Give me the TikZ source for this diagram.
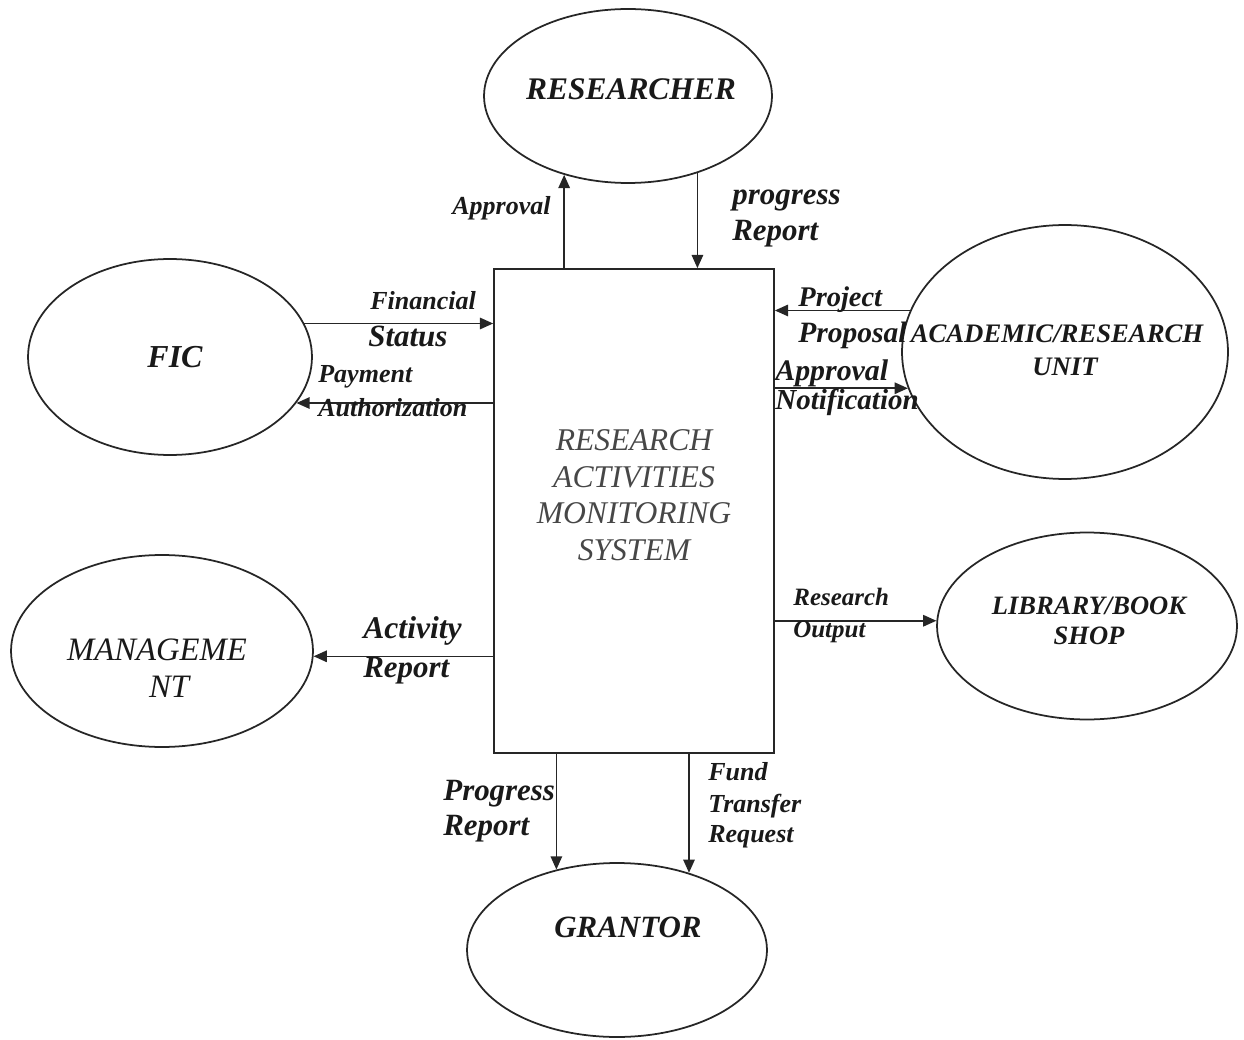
\documentclass[tikz,border=0pt]{standalone}
\usepackage{fontspec}
\setmainfont{Liberation Serif}
\usetikzlibrary{shapes.geometric,arrows.meta}

\newcommand\setfs[1]{\fontsize{#1}{#1}\selectfont}

\tikzset{
  ent/.style={draw=black!85, line width=1pt, ellipse, inner sep=0pt},
  proc/.style={draw=black!85, line width=1pt, rectangle, inner sep=0pt,
    minimum width=5.6cm, minimum height=9.68cm},
  flow/.style={draw=black!85, line width=0.9pt,
    -{Triangle[length=7.5pt,width=6.5pt]}},
  ttl/.style={inner sep=0pt, anchor=base, text=black!90,
    font=\bfseries\itshape\setfs{#1}},
  ttl/.default=17.9pt,
  ttlr/.style={inner sep=0pt, anchor=base, text=black!90,
    font=\itshape\setfs{#1}},
  ttlr/.default=18.6pt,
  boxt/.style={inner sep=0pt, anchor=base, text=black!72,
    font=\itshape\setfs{18pt}},
  lbl/.style={inner sep=0pt, anchor=base west, text=black!90,
    font=\bfseries\itshape\setfs{#1}},
  lbl/.default=14.8pt,
}

\begin{document}
\begin{tikzpicture}[x=0.02cm, y=-0.02cm]
\useasboundingbox (0,0) rectangle (1244,1040);

% external entities
\node[ent, minimum width=5.76cm, minimum height=3.48cm] (res)   at (628,96)   {};
\node[ent, minimum width=5.68cm, minimum height=3.92cm] (fic)   at (170,357)  {};
\node[ent, minimum width=6.52cm, minimum height=5.08cm] (acad)  at (1065,352) {};
\node[ent, minimum width=6.04cm, minimum height=3.84cm] (mgmt)  at (162,651)  {};
\node[ent, minimum width=6.0cm,  minimum height=3.74cm] (lib)   at (1087,626) {};
\node[ent, minimum width=6.0cm,  minimum height=3.48cm] (grant) at (617,950)  {};

% the system
\node[proc] (ram) at (634,511) {};

% entity names
\node[ttl] (res-t) at (631,100) {RESEARCHER};
\node[ttl=18.2pt] (fic-t) at (175,368) {FIC};
\node[ttl=15.2pt] (acad-t1) at (1057,343) {ACADEMIC/RESEARCH};
\node[ttl=15.2pt] (acad-t2) at (1065,376) {UNIT};
\node[ttlr] (mgmt-t1) at (157,660) {MANAGEME};
\node[ttlr] (mgmt-t2) at (169,697) {NT};
\node[ttl=15.1pt] (lib-t1) at (1089,614) {LIBRARY/BOOK};
\node[ttl=15.1pt] (lib-t2) at (1089,644) {SHOP};
\node[ttl=17.6pt] (grant-t) at (628,937) {GRANTOR};

% system name
\node[boxt] (ram-t1) at (634,450) {RESEARCH};
\node[boxt] (ram-t2) at (634,487) {ACTIVITIES};
\node[boxt] (ram-t3) at (634,523) {MONITORING};
\node[boxt] (ram-t4) at (634,560) {SYSTEM};

% data flows
\draw[flow] (ram.north -| res.231.7) -- (res.231.7);
\draw[flow] (res.312.6) -- (res.312.6 |- ram.north);
\draw[flow] (fic.14.8) -- (fic.14.8 -| ram.west);
\draw[flow] (fic.340.4 -| ram.west) -- (fic.340.4);
\draw[flow] (acad.165.9) -- (acad.165.9 -| ram.east);
\draw[flow] (acad.193 -| ram.east) -- (acad.193);
\draw[flow] (mgmt.358.5 -| ram.west) -- (mgmt.358.5);
\draw[flow] (lib.178.5 -| ram.east) -- (lib.178.5);
\draw[flow] (grant.127.5 |- ram.south) -- (grant.127.5);
\draw[flow] (grant.47.2 |- ram.south) -- (grant.47.2);

% flow labels
\node[lbl] (l-appr) at (452,215) {Approval};
\node[lbl=17.6pt] (l-prog1) at (732,205) {progress};
\node[lbl=17.6pt] (l-prog2) at (732,241) {Report};
\node[lbl] (l-fin1) at (370,310) {Financial};
\node[lbl=17.6pt] (l-fin2) at (368,347) {Status};
\node[lbl] (l-pay1) at (318,383) {Payment};
\node[lbl] (l-pay2) at (318,417) {Authorization};
\node[lbl=16.2pt] (l-pp1) at (798,307) {Project};
\node[lbl=16.8pt] (l-pp2) at (798,343) {Proposal};
\node[lbl=17pt] (l-an1) at (775,380) {Approval};
\node[lbl=16.5pt] (l-an2) at (775,410) {Notification};
\node[lbl=14.2pt] (l-ro1) at (793,605) {Research};
\node[lbl=14.2pt] (l-ro2) at (793,637) {Output};
\node[lbl=18pt] (l-ar1) at (363,638) {Activity};
\node[lbl=17.6pt] (l-ar2) at (363,677) {Report};
\node[lbl=17.6pt] (l-pr1) at (443,800) {Progress};
\node[lbl=17.6pt] (l-pr2) at (443,835) {Report};
\node[lbl] (l-ft1) at (708,780) {Fund};
\node[lbl] (l-ft2) at (708,812) {Transfer};
\node[lbl] (l-ft3) at (708,842) {Request};
\end{tikzpicture}
\end{document}
